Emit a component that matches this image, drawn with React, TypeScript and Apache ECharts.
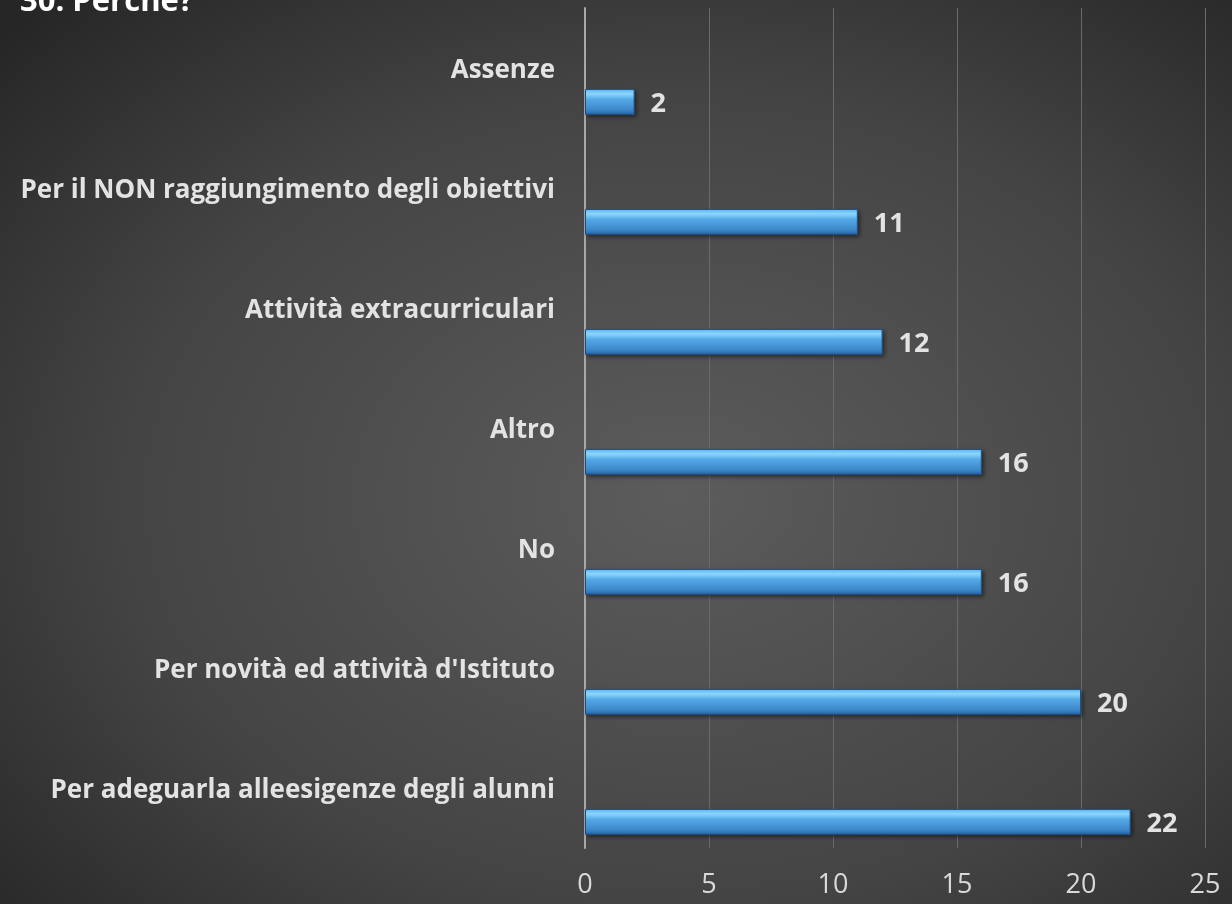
import React, { useEffect, useRef } from "react";
import * as echarts from "echarts";

const categories = [
  "Assenze",
  "Per il NON raggiungimento degli obiettivi",
  "Attività extracurriculari",
  "Altro",
  "No",
  "Per novità ed attività d'Istituto",
  "Per adeguarla alleesigenze degli alunni",
];
const values = [2, 11, 12, 16, 16, 20, 22];
const placeholder = [null, null, null, null, null, null, null];
const title = "30. Perché?";

export default function App() {
  const ref = useRef<HTMLDivElement>(null);
  useEffect(() => {
    if (!ref.current) return;
    const chart = echarts.init(ref.current, undefined, { renderer: "svg" });
    const font = "'Open Sans', Lato, sans-serif";
    chart.setOption({
      animation: false,
      backgroundColor: {
        type: "radial",
        x: 0.55,
        y: 0.55,
        r: 0.75,
        colorStops: [
          { offset: 0, color: "#5c5c5c" },
          { offset: 0.6, color: "#444444" },
          { offset: 1, color: "#262626" },
        ],
      },
      graphic: [
        {
          type: "text",
          left: 20,
          top: -17,
          style: {
            text: title,
            fill: "#ffffff",
            font: `bold 31px ${font}`,
          },
        },
      ],
      grid: { left: 585, right: 27, top: 8, bottom: 56, containLabel: false },
      xAxis: {
        type: "value",
        min: 0,
        max: 25,
        interval: 5,
        axisLine: { show: false },
        axisTick: { show: false },
        splitLine: { show: true, lineStyle: { color: "#6a6a6a", width: 1 } },
        axisLabel: {
          color: "#d9d9d9",
          fontFamily: font,
          fontSize: 27,
          margin: 21,
        },
      },
      yAxis: {
        type: "category",
        data: categories,
        inverse: true,
        axisLine: { show: true, lineStyle: { color: "#a8a8a8", width: 2 } },
        axisTick: { show: false },
        axisLabel: {
          color: "#e3e3e3",
          fontFamily: font,
          fontWeight: "bold",
          fontSize: 26,
          margin: 30,
        },
      },
      series: [
        {
          type: "bar",
          data: placeholder,
          barWidth: 26,
          barGap: "161%",
          silent: true,
        },
        {
          type: "bar",
          data: values,
          barWidth: 26,
          itemStyle: {
            color: {
              type: "linear",
              x: 0,
              y: 0,
              x2: 0,
              y2: 1,
              colorStops: [
                { offset: 0, color: "#5fb4ee" },
                { offset: 0.18, color: "#8ad6ff" },
                { offset: 0.4, color: "#55a9e6" },
                { offset: 0.85, color: "#3a84c6" },
                { offset: 1, color: "#285f9c" },
              ],
            },
            borderColor: "#1f4f85",
            borderWidth: 1,
            shadowColor: "rgba(0,0,0,0.5)",
            shadowBlur: 4,
            shadowOffsetX: 2,
            shadowOffsetY: 2,
          },
          label: {
            show: true,
            position: "right",
            distance: 16,
            color: "#e3e3e3",
            fontFamily: font,
            fontWeight: "bold",
            fontSize: 27,
          },
        },
      ],
    });
    return () => chart.dispose();
  }, []);
  return (
    <div
      ref={ref}
      style={{ position: "fixed", left: 0, top: 0, width: 1232, height: 904 }}
    />
  );
}
